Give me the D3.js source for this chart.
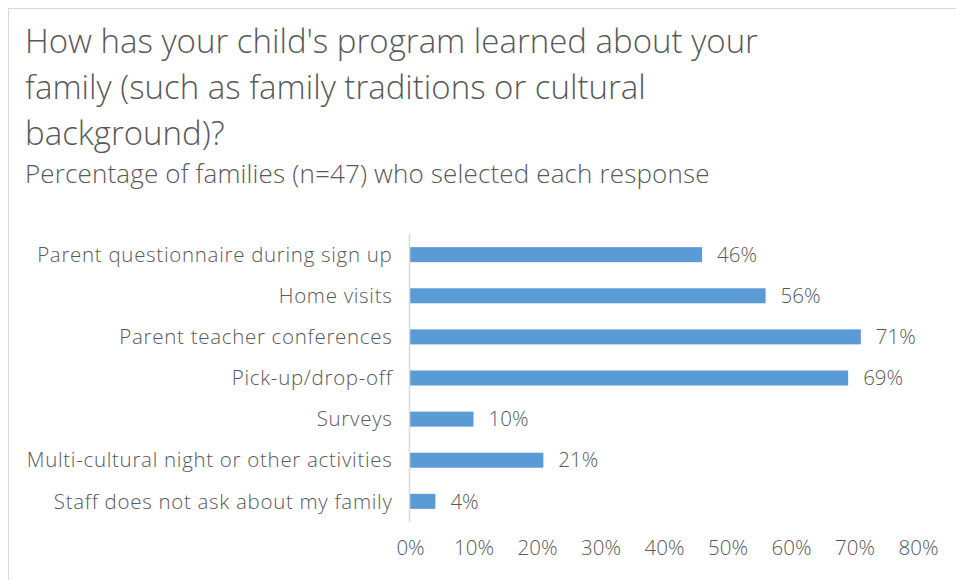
<!DOCTYPE html>
<html>
<head>
<meta charset="utf-8">
<script src="https://cdn.jsdelivr.net/npm/d3@7"></script>
<style>
  body { margin: 0; background: #fff; }
  svg { font-family: "Open Sans", "Segoe UI", sans-serif; font-weight: 300; }
</style>
</head>
<body>
<svg width="956" height="580"></svg>
<script>
const titleLines = [
  "How has your child's program learned about your",
  "family (such as family traditions or cultural",
  "background)?"
];
const subtitle = "Percentage of families (n=47) who selected each response";
const categories = [
  "Parent questionnaire during sign up",
  "Home visits",
  "Parent teacher conferences",
  "Pick-up/drop-off",
  "Surveys",
  "Multi-cultural night or other activities",
  "Staff does not ask about my family"
];
const values = [46, 56, 71, 69, 10, 21, 4];
const ticks = [0, 10, 20, 30, 40, 50, 60, 70, 80];

const textColor = "#595959";
const svg = d3.select("svg");

// chart frame
svg.append("rect")
  .attr("x", 8.5).attr("y", 8.5)
  .attr("width", 1000).attr("height", 1000)
  .attr("fill", "none").attr("stroke", "#d9d9d9");

const title = svg.append("text")
  .attr("x", 25).attr("y", 53)
  .attr("fill", textColor)
  .style("font-size", "33px");
title.selectAll("tspan").data(titleLines).join("tspan")
  .attr("x", 25)
  .attr("dy", (d, i) => (i === 0 ? 0 : 46))
  .text((d) => d);

svg.append("text")
  .attr("x", 25).attr("y", 183)
  .attr("fill", textColor)
  .style("font-size", "26px")
  .style("letter-spacing", "0.15px")
  .text(subtitle);

const x = d3.scaleLinear().domain([0, 80]).range([410, 918]);
const y = d3.scaleBand().domain(categories).range([234, 522]).paddingInner(0.635).paddingOuter(0.32);

const data = categories.map((c, i) => ({ cat: c, val: values[i] }));

svg.append("g").selectAll("rect").data(data).join("rect")
  .attr("x", x(0))
  .attr("y", (d) => y(d.cat))
  .attr("width", (d) => x(d.val) - x(0))
  .attr("height", y.bandwidth())
  .attr("fill", "#5b9bd5");

// vertical category axis line
svg.append("line")
  .attr("x1", 409.5).attr("x2", 409.5)
  .attr("y1", 234).attr("y2", 522)
  .attr("stroke", "#d9d9d9").attr("stroke-width", 1.5);

svg.append("g").selectAll("text").data(data).join("text")
  .attr("x", 392.5)
  .attr("y", (d) => y(d.cat) + y.bandwidth() / 2)
  .attr("dy", "0.35em")
  .attr("text-anchor", "end")
  .attr("fill", textColor)
  .style("font-size", "20.5px")
  .style("letter-spacing", "0.7px")
  .text((d) => d.cat);

svg.append("g").selectAll("text").data(data).join("text")
  .attr("x", (d) => x(d.val) + 15)
  .attr("y", (d) => y(d.cat) + y.bandwidth() / 2)
  .attr("dy", "0.35em")
  .attr("fill", textColor)
  .style("font-size", "20.5px")
  .text((d) => d.val + "%");

const xAxis = svg.append("g")
  .attr("transform", "translate(0,540)")
  .call(d3.axisBottom(x).tickValues(ticks).tickFormat((d) => d + "%").tickSize(0));
xAxis.select(".domain").remove();
xAxis.selectAll("text")
  .attr("y", 0).attr("dy", "0.75em")
  .attr("fill", textColor)
  .style("font-size", "20.5px")
  .style("font-family", "\"Open Sans\", sans-serif")
  .style("font-weight", 300);
</script>
</body>
</html>
